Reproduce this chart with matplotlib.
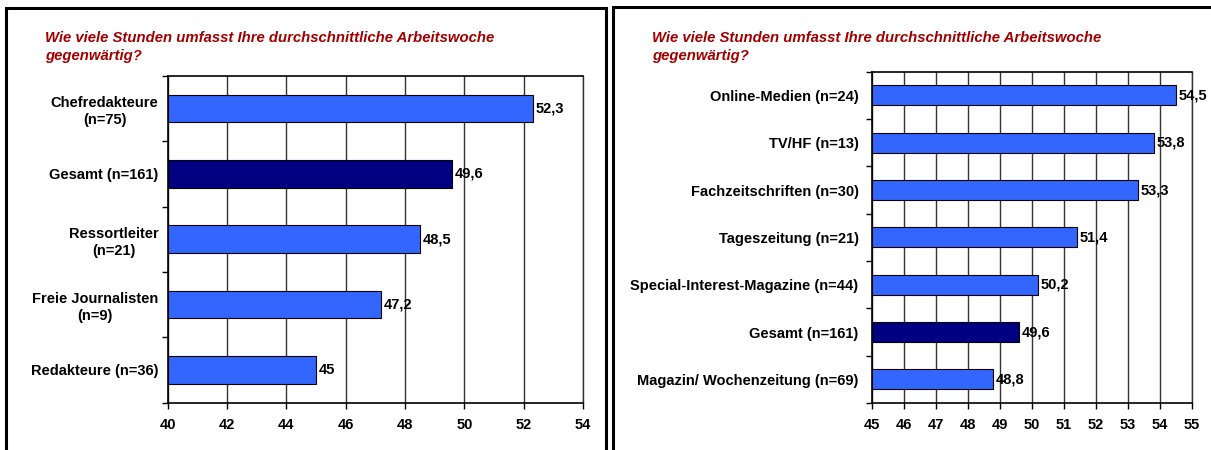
import matplotlib
matplotlib.use("Agg")
import matplotlib.pyplot as plt
from matplotlib.lines import Line2D
import numpy as np

plt.rcParams['font.family'] = ['Liberation Sans', 'DejaVu Sans']

title = "Wie viele Stunden umfasst Ihre durchschnittliche Arbeitswoche\ngegenwärtig?"

left_cats = ["Chefredakteure\n(n=75)", "Gesamt (n=161)", "Ressortleiter\n(n=21)",
             "Freie Journalisten\n(n=9)", "Redakteure (n=36)"]
left_vals = [52.3, 49.6, 48.5, 47.2, 45.0]
left_ticks = [40, 42, 44, 46, 48, 50, 52, 54]

right_cats = ["Online-Medien (n=24)", "TV/HF (n=13)", "Fachzeitschriften (n=30)",
              "Tageszeitung (n=21)", "Special-Interest-Magazine (n=44)", "Gesamt (n=161)",
              "Magazin/ Wochenzeitung (n=69)"]
right_vals = [54.5, 53.8, 53.3, 51.4, 50.2, 49.6, 48.8]
right_ticks = [45, 46, 47, 48, 49, 50, 51, 52, 53, 54, 55]

W, H = 1211, 450
fig = plt.figure(figsize=(W / 100, H / 100), dpi=100)

LIGHT = "#3366FF"
DARK = "#000080"
RED = "#A00000"
FS = 10.5


def fx(px):
    return px / W


def fy(py):
    return 1 - py / H


def panel(rect, cats, vals, ticks, base, bar_h, ypad):
    x0, y0, x1, y1 = rect
    ax = fig.add_axes([fx(x0), fy(y1), fx(x1) - fx(x0), fy(y0) - fy(y1)])
    n = len(cats)
    pos = np.arange(n)
    colors = [DARK if c.startswith("Gesamt") else LIGHT for c in cats]
    ax.barh(pos, [v - base for v in vals], left=base, height=bar_h,
            color=colors, edgecolor="black", linewidth=0.8, zorder=3)
    ax.set_xlim(ticks[0], ticks[-1])
    ax.set_ylim(n - 0.5, -0.5)
    ax.set_xticks(ticks)
    ax.set_xticklabels([str(t) for t in ticks], fontsize=FS, fontweight="bold")
    ax.tick_params(axis="x", direction="out", length=4, width=1, pad=7)
    ax.set_yticks(pos)
    ax.set_yticklabels(cats, fontsize=FS, fontweight="bold", multialignment="center",
                       linespacing=1.3)
    ax.tick_params(axis="y", which="major", length=0, pad=ypad)
    ax.set_yticks(np.arange(n + 1) - 0.5, minor=True)
    ax.tick_params(axis="y", which="minor", direction="out", length=4, width=1)
    ax.grid(axis="x", color="#333333", linewidth=1, zorder=1)
    ax.set_axisbelow(True)
    for s in ["left", "bottom", "top"]:
        ax.spines[s].set_linewidth(1.2)
        ax.spines[s].set_color("black")
    ax.spines["right"].set_linewidth(1)
    ax.spines["right"].set_color("#333333")
    for p, v in zip(pos, vals):
        ax.annotate(f"{v:g}".replace(".", ","), (v, p), xytext=(2, 0),
                    textcoords="offset points", va="center", ha="left",
                    fontsize=FS, fontweight="bold", zorder=4)
    return ax


panel((167.5, 75.7, 583, 402.7), left_cats, left_vals, left_ticks, 40, 0.42, 6.5)
panel((871.7, 71.7, 1192, 403), right_cats, right_vals, right_ticks, 45, 0.42, 9.5)

for xpx in (45, 652):
    fig.text(fx(xpx), fy(31), title, color=RED, fontsize=10.7, fontweight="bold",
             fontstyle="italic", ha="left", va="top", linespacing=1.35)

# panel frames
lw = 2.2
for pts in [[(6, 460), (6, 8), (606, 8), (606, 460)],
            [(613, 460), (613, 7), (1215, 7)]]:
    xs = [fx(p[0]) for p in pts]
    ys = [fy(p[1]) for p in pts]
    fig.add_artist(Line2D(xs, ys, color="black", linewidth=lw,
                          transform=fig.transFigure, solid_joinstyle="miter"))

fig.savefig("out.png", dpi=100)
